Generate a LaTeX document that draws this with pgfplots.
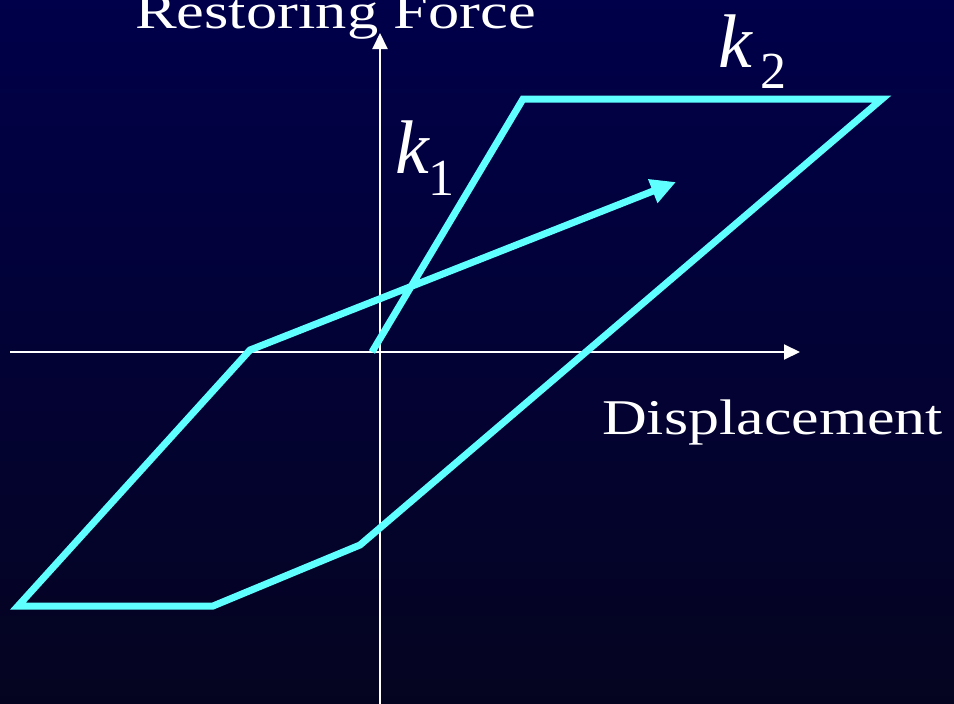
\documentclass[border=0pt]{standalone}
\usepackage{pgfplots}
\pgfplotsset{compat=1.18}
\usepackage{graphicx}
\usepackage{fontspec}
\setmainfont{Liberation Serif}
\usetikzlibrary{arrows.meta,shadings}

\definecolor{bgtop}{RGB}{0,0,74}
\definecolor{bgbot}{RGB}{5,4,32}
\definecolor{cyanline}{RGB}{95,255,255}

\newcommand{\lbl}{\fontsize{50}{60}\selectfont}
\newcommand{\kfont}{\fontsize{76}{90}\selectfont}
\newcommand{\subfont}{\fontsize{52}{62}\selectfont}

\begin{document}
\begin{tikzpicture}
\clip (0,0) rectangle (954pt,704pt);
\shade[top color=bgtop, bottom color=bgbot] (0,0) rectangle (954pt,704pt);
\begin{axis}[
  at={(0,0)}, anchor=south west,
  scale only axis, width=954pt, height=704pt,
  xmin=0, xmax=954, ymin=0, ymax=704, y dir=reverse,
  hide axis, clip=false,
]
% coordinate axes
\draw[white, line width=2pt, -{Triangle[length=16pt,width=15pt]}]
  (10,352) -- (800,352);
\draw[white, line width=2pt, -{Triangle[length=16pt,width=15pt]}]
  (380,704) -- (380,33);

% bilinear hysteresis loop (k1 elastic, k2 yielding branch)
\addplot[draw=cyanline, line width=7pt, line join=miter,
  -{Triangle[length=25pt,width=24pt]}] coordinates {
  (372,352) (523,99) (882,99) (360,545) (213,606)
  (18,606) (250,350) (676,182)
};

% labels
\node[white, anchor=base west, inner sep=0] at (135,28)
  {\lbl\scalebox{1.25}[1]{Restoring Force}};
\node[white, anchor=base west, inner sep=0] at (602,434)
  {\lbl\scalebox{1.24}[1]{Displacement}};
\node[white, anchor=base west, inner sep=0] at (395,173) {\kfont\itshape k};
\node[white, anchor=base west, inner sep=0] at (428,195) {\subfont 1};
\node[white, anchor=base west, inner sep=0] at (718,67) {\kfont\itshape k};
\node[white, anchor=base west, inner sep=0] at (760,88) {\subfont 2};
\end{axis}
\end{tikzpicture}
\end{document}
